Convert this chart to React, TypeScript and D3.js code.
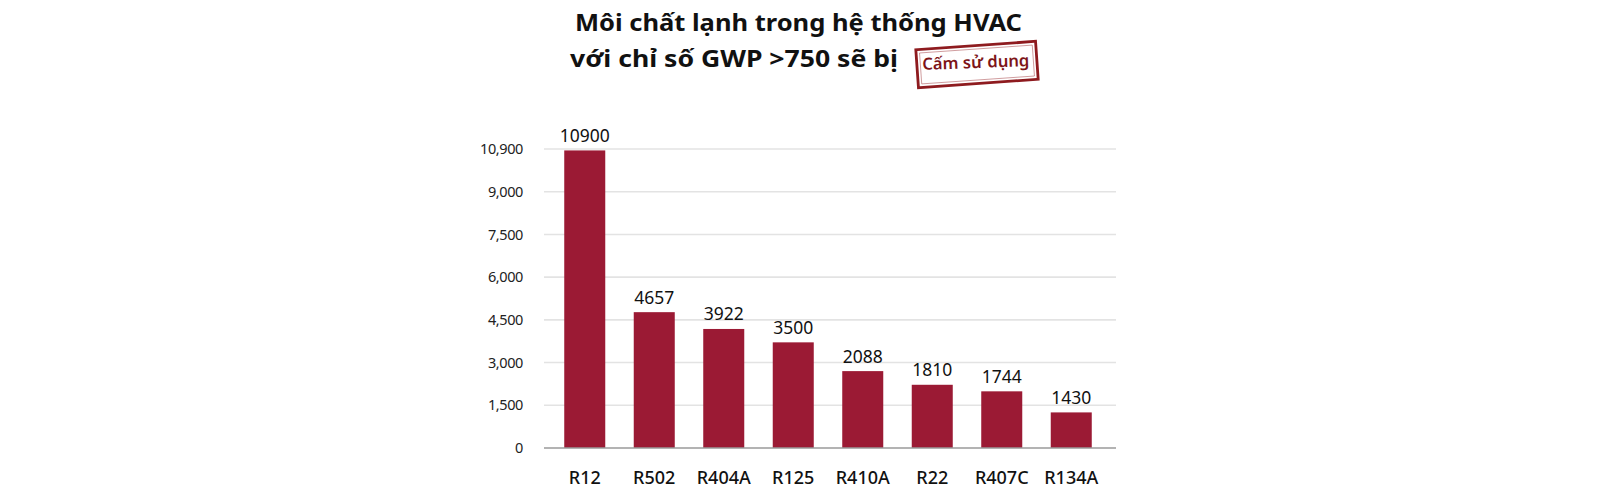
import React from "react";
import * as d3 from "d3";

const titleLine1 = "Môi chất lạnh trong hệ thống HVAC";
const titleLine2 = "với chỉ số GWP >750 sẽ bị";
const stampText = "Cấm sử dụng";

const categories = ["R12", "R502", "R404A", "R125", "R410A", "R22", "R407C", "R134A"];
// bar heights as drawn on the axis
const barHeights = [10450, 4770, 4180, 3710, 2700, 2220, 1990, 1250];
// value labels printed above the bars
const valueLabels = ["10900", "4657", "3922", "3500", "2088", "1810", "1744", "1430"];
const tickValues = [0, 1500, 3000, 4500, 6000, 7500, 9000, 10500];
const tickLabels = ["0", "1,500", "3,000", "4,500", "6,000", "7,500", "9,000", "10,900"];

const W = 1600;
const H = 500;
const FONT = "'Noto Sans', 'Open Sans', sans-serif";

export default function App() {
  const y = d3.scaleLinear().domain([0, 10500]).range([448, 149]);
  const x = d3.scaleBand<string>().domain(categories).range([550, 1106]).paddingInner(0.41).paddingOuter(0.205);
  const gridX0 = 544;
  const gridX1 = 1116;

  return (
    <div style={{ position: "absolute", left: 0, top: 0, width: W, height: H, background: "#fff" }}>
      <svg width={W} height={H} style={{ display: "block" }} fontFamily={FONT}>
        {/* title */}
        <text x={575} y={31} fontSize={23.5} fontWeight={700} fill="#111" textLength={447} lengthAdjust="spacingAndGlyphs">
          {titleLine1}
        </text>
        <text x={570} y={66.5} fontSize={23.5} fontWeight={700} fill="#111" textLength={328} lengthAdjust="spacingAndGlyphs">
          {titleLine2}
        </text>
        {/* stamp */}
        <g transform="translate(977,64.5) rotate(-4)">
          <rect x={-60} y={-19} width={120} height={38} fill="none" stroke="#8e1b1f" strokeWidth={2.8} />
          <rect x={-56.5} y={-15.5} width={113} height={31} fill="none" stroke="#a0393c" strokeWidth={0.8} opacity={0.6} />
        </g>
        <g transform="translate(976,68) rotate(-2)">
          <text x={0} y={0} textAnchor="middle" fontSize={16.5} fontWeight={600} fill="#7d1418" textLength={107} lengthAdjust="spacingAndGlyphs">
            {stampText}
          </text>
        </g>

        {/* gridlines */}
        {tickValues.map((t) =>
          t === 0 ? null : (
            <line key={"g" + t} x1={gridX0} x2={gridX1} y1={y(t)} y2={y(t)} stroke="#e3e3e3" strokeWidth={1.6} />
          )
        )}
        {/* tick labels */}
        {tickValues.map((t, i) => (
          <text key={"t" + t} x={523} y={y(t)} dy="0.35em" textAnchor="end" fontSize={14.5} fill="#222" letterSpacing={-0.4}>
            {tickLabels[i]}
          </text>
        ))}

        {/* bars */}
        {categories.map((c, i) => (
          <rect key={c} x={x(c)} y={y(barHeights[i])} width={x.bandwidth()} height={y(0) - y(barHeights[i])} fill="#9b1a34" />
        ))}
        {/* baseline */}
        <line x1={gridX0} x2={gridX1} y1={y(0)} y2={y(0)} stroke="#9a9a9a" strokeWidth={1.4} />

        {/* value labels */}
        {categories.map((c, i) => (
          <text key={"v" + c} x={(x(c) as number) + x.bandwidth() / 2} y={y(barHeights[i]) - 8.5} textAnchor="middle" fontSize={17.5} fill="#111">
            {valueLabels[i]}
          </text>
        ))}
        {/* category labels */}
        {categories.map((c) => (
          <text key={"c" + c} x={(x(c) as number) + x.bandwidth() / 2} y={483.5} textAnchor="middle" fontSize={18} fontWeight={500} fill="#111">
            {c}
          </text>
        ))}
      </svg>
    </div>
  );
}
